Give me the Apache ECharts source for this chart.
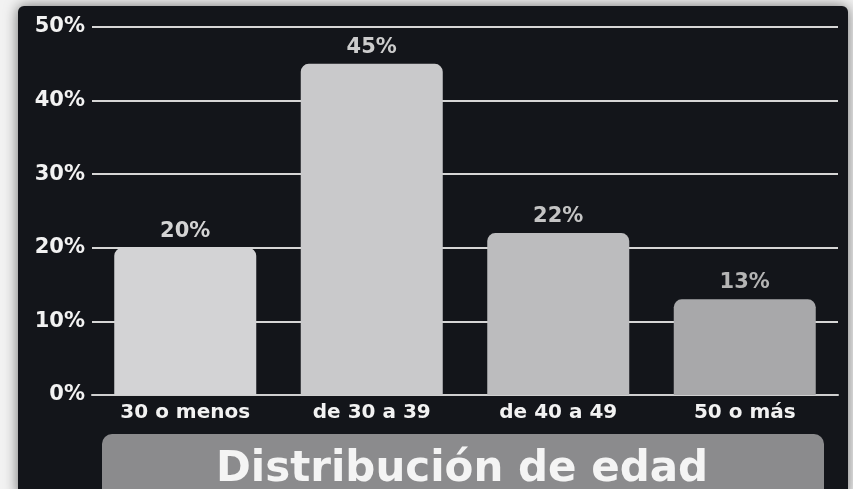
<!DOCTYPE html>
<html>
<head>
<meta charset="utf-8">
<script src="https://cdn.jsdelivr.net/npm/echarts@6/dist/echarts.min.js"></script>
<style>
  html, body { margin: 0; padding: 0; background: #f2f2f2; }
  #chart { width: 853px; height: 489px; }
</style>
</head>
<body>
<div id="chart"></div>
<script>
const categories = ['30 o menos', 'de 30 a 39', 'de 40 a 49', '50 o más'];
const values = [20, 45, 22, 13];
const barColors = ['#d3d3d5', '#c9c9cb', '#bcbcbe', '#a8a8aa'];
const labelColors = ['#d4d4d4', '#cccccc', '#c4c4c4', '#b4b4b4'];
const yTicks = [0, 10, 20, 30, 40, 50];

const chart = echarts.init(document.getElementById('chart'));

const option = {
  backgroundColor: '#f2f2f2',
  animation: false,
  textStyle: { fontFamily: 'DejaVu Sans' },
  grid: { left: 92, right: 15, top: 27, bottom: 94 },
  graphic: [
    {
      type: 'rect',
      z: -10,
      shape: { x: 18, y: 6, width: 830, height: 492, r: 6 },
      style: { fill: '#13151a', shadowBlur: 14, shadowColor: 'rgba(0,0,0,0.55)' }
    },
    {
      type: 'rect',
      z: 10,
      shape: { x: 102, y: 434, width: 722, height: 70, r: 10 },
      style: { fill: '#8b8b8d' }
    },
    {
      type: 'text',
      z: 11,
      x: 462,
      y: 470,
      style: {
        text: 'Distribución de edad',
        fill: '#f4f4f4',
        font: 'bold 42px "DejaVu Sans"',
        align: 'center',
        verticalAlign: 'middle'
      }
    }
  ],
  xAxis: {
    type: 'category',
    data: categories,
    axisTick: { show: false },
    axisLine: { lineStyle: { color: '#cfcfcf', width: 2 } },
    axisLabel: { color: '#f2f2f2', fontSize: 20, fontWeight: 'bold', margin: 8 }
  },
  yAxis: {
    type: 'value',
    min: yTicks[0],
    max: yTicks[yTicks.length - 1],
    interval: 10,
    axisLine: { show: false },
    axisTick: { show: false },
    splitLine: { lineStyle: { color: '#d6d6d6', width: 2 } },
    axisLabel: {
      color: '#f2f2f2', fontSize: 21, fontWeight: 'bold', margin: 7,
      formatter: v => v + '%'
    }
  },
  series: [{
    type: 'bar',
    barWidth: 142,
    data: values.map((v, i) => ({
      value: v,
      itemStyle: { color: barColors[i], borderRadius: [8, 8, 0, 0] },
      label: { color: labelColors[i] }
    })),
    label: {
      show: true,
      position: 'top',
      distance: 6,
      fontSize: 21,
      fontWeight: 'bold',
      formatter: p => p.value + '%'
    }
  }]
};

chart.setOption(option);
</script>
</body>
</html>
